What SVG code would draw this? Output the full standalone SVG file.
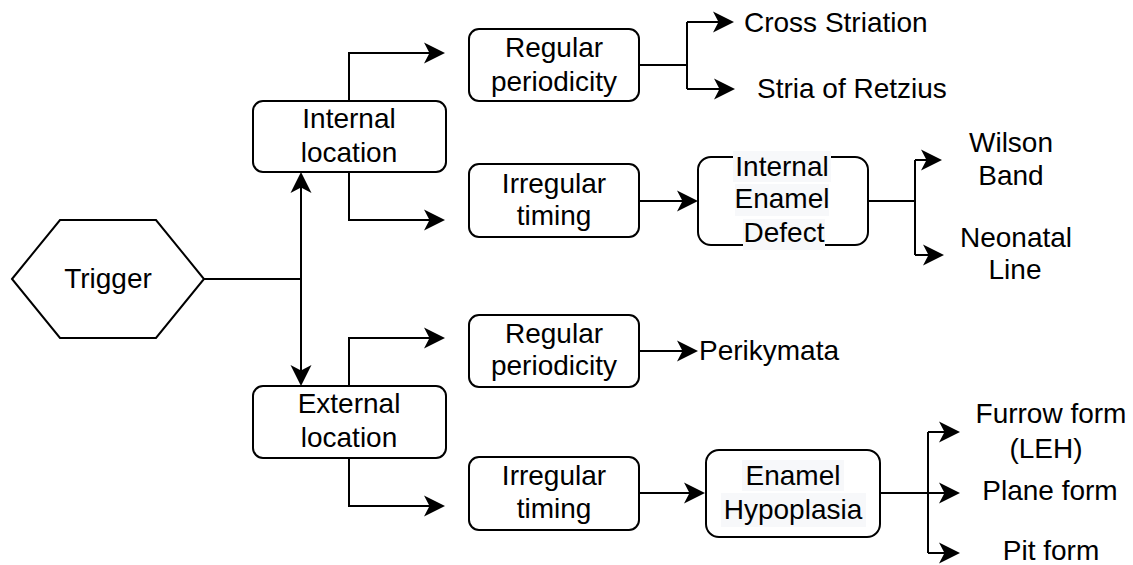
<svg xmlns="http://www.w3.org/2000/svg" width="1133" height="565" viewBox="0 0 1133 565">
<style>
.box{fill:#ffffff;stroke:#000000;stroke-width:2}
.t{font-family:"Liberation Sans",Arial,sans-serif;font-size:28px;fill:#000000;text-anchor:middle}
.ts{font-family:"Liberation Sans",Arial,sans-serif;font-size:28px;fill:#000000;text-anchor:start}
.bg{fill:#f7f8fa;stroke:none}
.c{fill:none;stroke:#000000;stroke-width:2}
.a{fill:none;stroke:#000000;stroke-width:2;marker-end:url(#arr)}
</style>
<defs>
<marker id="arr" markerUnits="userSpaceOnUse" markerWidth="24" markerHeight="24" viewBox="0 0 24 24" refX="18" refY="12" orient="auto">
<path d="M0,1.5 L21,12 L0,22.5 L5.5,12 Z" fill="#000000"/>
</marker>
</defs>
<rect width="1133" height="565" fill="#ffffff"/>
<g id="connectors">
<path class="c" d="M204,279 H301"/>
<path class="a" d="M301,279 V175"/>
<path class="a" d="M301,279 V383"/>
<path class="a" d="M349,101 V53 H442"/>
<path class="a" d="M349,172 V220 H442"/>
<path class="c" d="M639,65 H687 M687,22 V89"/>
<path class="a" d="M687,22 H731"/>
<path class="a" d="M687,89 H732"/>
<path class="a" d="M639,201 H695"/>
<path class="c" d="M868,201 H915 M915,160 V255"/>
<path class="a" d="M915,160 H939"/>
<path class="a" d="M915,255 H941"/>
<path class="a" d="M349,386 V338 H442"/>
<path class="a" d="M349,458 V506 H442"/>
<path class="a" d="M639,351 H695"/>
<path class="a" d="M639,493 H702"/>
<path class="c" d="M880,493 H928 M928,432 V553"/>
<path class="a" d="M928,432 H957"/>
<path class="a" d="M928,493 H957"/>
<path class="a" d="M928,553 H957"/>
</g>
<g id="trigger">
<polygon class="box" points="12,279 60,220 156,220 204,279 156,338 60,338"/>
<text class="t" x="108" y="288">Trigger</text>
</g>
<g id="internal-location">
<rect class="box" x="253" y="101" width="193" height="71" rx="10"/>
<text class="t" x="349" y="128">Internal</text>
<text class="t" x="349" y="162">location</text>
</g>
<g id="external-location">
<rect class="box" x="253" y="386" width="193" height="72" rx="10"/>
<text class="t" x="349" y="413">External</text>
<text class="t" x="349" y="447">location</text>
</g>
<g id="regular-periodicity-internal">
<rect class="box" x="469" y="29" width="170" height="72" rx="10"/>
<text class="t" x="554" y="57">Regular</text>
<text class="t" x="554" y="91">periodicity</text>
</g>
<g id="irregular-timing-internal">
<rect class="box" x="469" y="164" width="170" height="73" rx="10"/>
<text class="t" x="554" y="193">Irregular</text>
<text class="t" x="554" y="225">timing</text>
</g>
<g id="internal-enamel-defect">
<rect class="box" x="698" y="157" width="170" height="88" rx="13"/>
<rect class="bg" x="733" y="151" width="98" height="31"/>
<rect class="bg" x="735" y="184" width="94" height="32"/>
<rect class="bg" x="743" y="219" width="82" height="31"/>
<text class="t" x="782" y="176">Internal</text>
<text class="t" x="782" y="208">Enamel</text>
<text class="t" x="784" y="242">Defect</text>
</g>
<g id="cross-striation">
<text class="ts" x="744" y="32">Cross Striation</text>
</g>
<g id="stria-of-retzius">
<text class="ts" x="757" y="98">Stria of Retzius</text>
</g>
<g id="wilson-band">
<text class="t" x="1011" y="152">Wilson</text>
<text class="t" x="1011" y="185">Band</text>
</g>
<g id="neonatal-line">
<text class="t" x="1016" y="247">Neonatal</text>
<text class="t" x="1015" y="279">Line</text>
</g>
<g id="regular-periodicity-external">
<rect class="box" x="469" y="315" width="170" height="72" rx="10"/>
<text class="t" x="554" y="343">Regular</text>
<text class="t" x="554" y="375">periodicity</text>
</g>
<g id="perikymata">
<text class="ts" x="699" y="360">Perikymata</text>
</g>
<g id="irregular-timing-external">
<rect class="box" x="469" y="457" width="170" height="73" rx="10"/>
<text class="t" x="554" y="485">Irregular</text>
<text class="t" x="554" y="518">timing</text>
</g>
<g id="enamel-hypoplasia">
<rect class="box" x="706" y="450" width="174" height="87" rx="13"/>
<rect class="bg" x="742" y="460" width="102" height="31"/>
<rect class="bg" x="721" y="493" width="145" height="34"/>
<text class="t" x="793" y="485">Enamel</text>
<text class="t" x="793" y="519">Hypoplasia</text>
</g>
<g id="furrow-form">
<text class="t" x="1051" y="423">Furrow form</text>
<text class="t" x="1046" y="458">(LEH)</text>
</g>
<g id="plane-form">
<text class="t" x="1050" y="500">Plane form</text>
</g>
<g id="pit-form">
<text class="t" x="1051" y="560">Pit form</text>
</g>
</svg>
